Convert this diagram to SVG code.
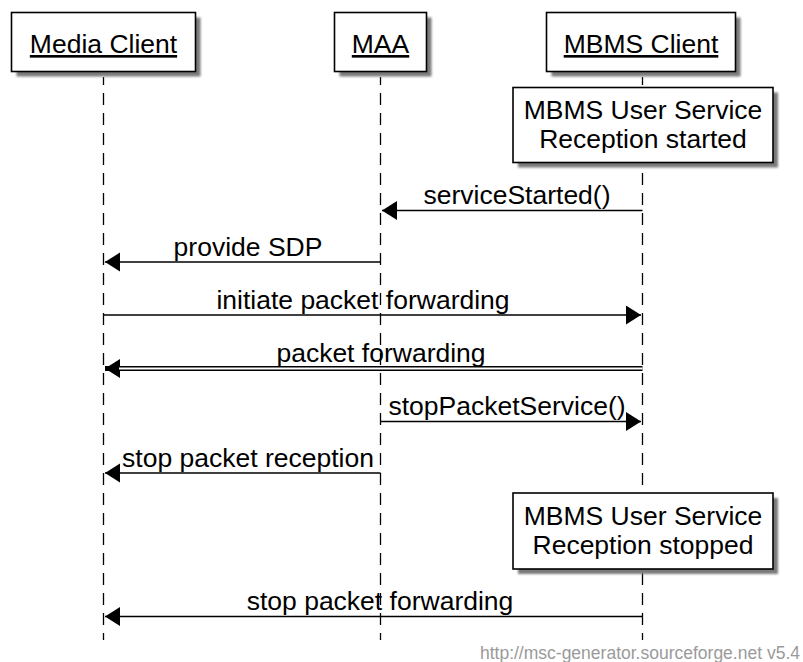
<svg xmlns="http://www.w3.org/2000/svg" width="803" height="662" viewBox="0 0 803 662">
<style>
text{font-family:"Liberation Sans",Arial,sans-serif;font-size:26.5px;fill:#000}
.hd{text-anchor:middle;text-decoration:underline}
.lb{text-anchor:middle}
.box{fill:#fff;stroke:#000;stroke-width:1.6}
.sh{fill:#7a7a7a;filter:url(#blur)}
.life{stroke:#000;stroke-width:1.3;stroke-dasharray:12 8;fill:none}
.msg{stroke:#000;stroke-width:1.3;fill:none}
.foot{font-size:17.5px;fill:#9a9a9a;text-anchor:end}
</style>
<defs>
<filter id="blur" x="-10%" y="-10%" width="120%" height="120%"><feGaussianBlur stdDeviation="1"/></filter>
<marker id="ah" markerUnits="userSpaceOnUse" markerWidth="16" markerHeight="20" refX="15" refY="9.5" orient="auto"><path d="M0,0 L15,9.5 L0,19 z" fill="#000"/></marker>
</defs>
<rect width="803" height="662" fill="#fff"/>
<g id="lifelines">
<line class="life" x1="103.5" y1="77" x2="103.5" y2="640" stroke-dashoffset="4"/>
<line class="life" x1="380.5" y1="77" x2="380.5" y2="640" stroke-dashoffset="4"/>
<line class="life" x1="642.5" y1="77" x2="642.5" y2="640" stroke-dashoffset="4"/>
</g>
<g id="media-client">
<rect class="sh" x="16.5" y="17.5" width="184" height="59"/>
<rect class="box" x="11.5" y="12.5" width="184" height="59"/>
<text class="hd" x="103.5" y="53">Media Client</text>
</g>
<g id="maa">
<rect class="sh" x="339.5" y="17.5" width="92" height="59"/>
<rect class="box" x="334.5" y="12.5" width="92" height="59"/>
<text class="hd" x="380.5" y="53">MAA</text>
</g>
<g id="mbms-client">
<rect class="sh" x="551.5" y="17.5" width="189" height="59"/>
<rect class="box" x="546.5" y="12.5" width="189" height="59"/>
<text class="hd" x="641" y="53">MBMS Client</text>
</g>
<g id="note-started">
<rect class="sh" x="518" y="92.5" width="260" height="75"/>
<rect class="box" x="513" y="87.5" width="260" height="75"/>
<text class="lb" x="643" y="118.5">MBMS User Service</text>
<text class="lb" x="643" y="147.5">Reception started</text>
</g>
<g id="note-stopped">
<rect class="sh" x="518" y="498" width="260" height="76"/>
<rect class="box" x="513" y="493" width="260" height="76"/>
<text class="lb" x="643" y="524.5">MBMS User Service</text>
<text class="lb" x="643" y="553.5">Reception stopped</text>
</g>
<g id="connectors">
<line class="msg" x1="642.5" y1="210.5" x2="382" y2="210.5" marker-end="url(#ah)"/>
<text class="lb" x="517" y="204">serviceStarted()</text>
<line class="msg" x1="380.5" y1="262" x2="105" y2="262" marker-end="url(#ah)"/>
<text class="lb" x="248" y="256">provide SDP</text>
<line class="msg" x1="103.5" y1="315" x2="641" y2="315" marker-end="url(#ah)"/>
<text class="lb" x="363" y="308.5">initiate packet forwarding</text>
<line x1="642.5" y1="368.5" x2="105" y2="368.5" stroke="#000" stroke-width="5" marker-end="url(#ah)"/>
<line x1="642.5" y1="368.5" x2="119" y2="368.5" stroke="#fff" stroke-width="2"/>
<text class="lb" x="381" y="361.5">packet forwarding</text>
<line class="msg" x1="380.5" y1="421.5" x2="641" y2="421.5" marker-end="url(#ah)"/>
<text class="lb" x="507" y="415">stopPacketService()</text>
<line class="msg" x1="380.5" y1="473" x2="105" y2="473" marker-end="url(#ah)"/>
<text class="lb" x="248" y="467">stop packet reception</text>
<line class="msg" x1="642.5" y1="616.5" x2="105" y2="616.5" marker-end="url(#ah)"/>
<text class="lb" x="380" y="610">stop packet forwarding</text>
</g>
<text class="foot" x="800" y="659">http://msc-generator.sourceforge.net v5.4</text>
</svg>
